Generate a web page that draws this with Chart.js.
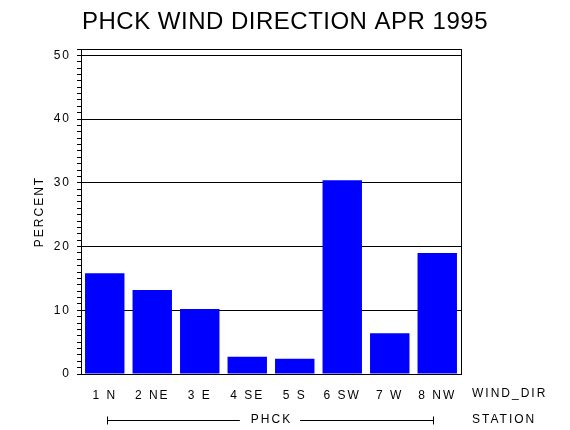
<!DOCTYPE html>
<html>
<head>
<meta charset="utf-8">
<script src="https://cdn.jsdelivr.net/npm/chart.js@4/dist/chart.umd.min.js"></script>
<style>
  html, body { margin: 0; padding: 0; background: #fff; }
  #wrap { width: 570px; height: 430px; }
</style>
</head>
<body>
<div id="wrap"><canvas id="chart" width="570" height="430"></canvas></div>
<script>
// chart data
const categories = ['1 N', '2 NE', '3 E', '4 SE', '5 S', '6 SW', '7 W', '8 NW'];
const percents = [15.8, 13.2, 10.2, 2.7, 2.4, 30.4, 6.4, 19.0];
const yMajorTicks = [0, 10, 20, 30, 40, 50];
const titleText = 'PHCK WIND DIRECTION APR 1995';
const yTitle = 'PERCENT';
const xTitle = 'WIND_DIR';
const groupLabel = 'PHCK';
const groupTitle = 'STATION';

const FONT = '"Liberation Sans", Arial, sans-serif';

const spacing = {
  id: 'spacing',
  beforeUpdate(chart) { chart.ctx.letterSpacing = '2px'; },
  beforeDraw(chart) { chart.ctx.letterSpacing = '2px'; }
};

const decorations = {
  id: 'decorations',
  afterDraw(chart) {
    const ctx = chart.ctx;
    const area = chart.chartArea;
    const x = chart.scales.x;
    ctx.save();
    ctx.strokeStyle = '#000';
    ctx.lineWidth = 1;
    ctx.strokeRect(Math.round(area.left) + 0.5, Math.round(area.top) + 0.5,
      Math.round(area.right - area.left), Math.round(area.bottom - area.top));

    // title
    ctx.letterSpacing = '0.5px';
    ctx.fillStyle = '#000';
    ctx.font = '24px ' + FONT;
    ctx.textAlign = 'left';
    ctx.textBaseline = 'alphabetic';
    ctx.fillText(titleText, 82, 29, 406);

    // y axis title
    ctx.letterSpacing = '2px';
    ctx.font = '12px ' + FONT;
    ctx.save();
    ctx.translate(40, (area.top + area.bottom) / 2);
    ctx.rotate(-Math.PI / 2);
    ctx.textAlign = 'center';
    ctx.textBaseline = 'middle';
    ctx.fillText(yTitle, 0, 0);
    ctx.restore();

    // axis captions on the right
    ctx.textAlign = 'left';
    ctx.textBaseline = 'middle';
    ctx.fillText(xTitle, 472, 394);
    ctx.fillText(groupTitle, 472, 420);

    // station bracket
    const x0 = Math.round(x.getPixelForValue(0)) + 2.5;
    const x1 = Math.round(x.getPixelForValue(categories.length - 1)) - 3.5;
    const yb = 420.5;
    ctx.textAlign = 'center';
    const mid = (x0 + x1) / 2;
    const tw = ctx.measureText(groupLabel).width;
    ctx.fillText(groupLabel, mid + 1, 420);
    ctx.beginPath();
    ctx.moveTo(x0, yb - 4); ctx.lineTo(x0, yb + 4);
    ctx.moveTo(x0, yb); ctx.lineTo(mid - tw / 2 - 10, yb);
    ctx.moveTo(mid + tw / 2 + 9, yb); ctx.lineTo(x1, yb);
    ctx.moveTo(x1, yb - 4); ctx.lineTo(x1, yb + 4);
    ctx.stroke();
    ctx.restore();
  }
};

new Chart(document.getElementById('chart'), {
  type: 'bar',
  data: {
    labels: categories,
    datasets: [{
      data: percents,
      backgroundColor: '#0000ff',
      borderWidth: 0,
      categoryPercentage: 0.83,
      barPercentage: 1
    }]
  },
  options: {
    responsive: false,
    animation: false,
    events: [],
    layout: { padding: { left: 0, right: 109, top: 49, bottom: 0 } },
    plugins: {
      legend: { display: false },
      tooltip: { enabled: false },
      title: { display: false }
    },
    scales: {
      x: {
        grid: { display: false, drawTicks: false },
        border: { color: '#000', width: 1 },
        ticks: {
          color: '#000',
          padding: 14,
          maxRotation: 0,
          autoSkip: false,
          font: { family: FONT, size: 12 }
        },
        afterFit(scale) { scale.height = 56; }
      },
      y: {
        min: 0,
        max: 51,
        grid: {
          color: ctx => (ctx.tick && yMajorTicks.includes(ctx.tick.value) && ctx.tick.value > 0) ? '#000' : 'rgba(0,0,0,0)',
          tickColor: '#000',
          tickLength: 4,
          lineWidth: 1
        },
        border: { color: '#000', width: 1 },
        ticks: {
          stepSize: 1,
          autoSkip: false,
          color: '#000',
          padding: 6,
          font: { family: FONT, size: 12 },
          callback: v => yMajorTicks.includes(v) ? String(v) : ''
        },
        afterFit(scale) { scale.width = 81; }
      }
    }
  },
  plugins: [spacing, decorations]
});
</script>
</body>
</html>
